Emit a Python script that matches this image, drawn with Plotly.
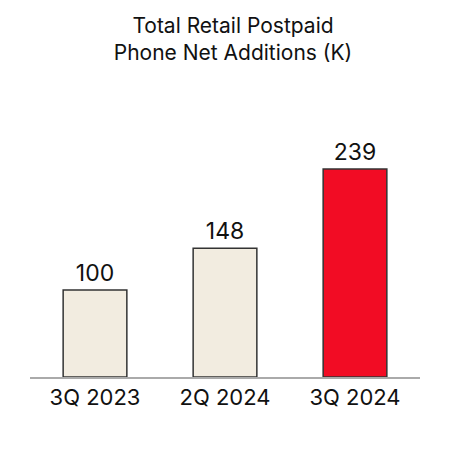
import plotly.graph_objects as go

categories = ["3Q 2023", "2Q 2024", "3Q 2024"]
values = [100, 148, 239]
colors = ["#f2ece0", "#f2ece0", "#f20c24"]

fig = go.Figure(go.Bar(
    x=categories, y=values, marker=dict(color=colors, line=dict(color="#333333", width=1.5)),
    text=[str(v) for v in values], textposition="outside", cliponaxis=False,
    textfont=dict(size=23, color="#111111"), width=0.49))
fig.update_layout(
    width=450, height=450, plot_bgcolor="white", paper_bgcolor="white",
    margin=dict(l=22, r=38, t=134, b=81),
    font=dict(family="Inter, Liberation Sans, sans-serif", color="#111111"),
    title=dict(text="Total Retail Postpaid<br>Phone Net Additions (K)", x=0.5, xanchor="center",
               y=0.945, yanchor="top", font=dict(size=21)),
    showlegend=False,
    xaxis=dict(showline=True, linecolor="#aaaaaa", linewidth=2, tickfont=dict(size=22), ticks=""),
    yaxis=dict(range=[0, 270], visible=False, showgrid=False),
)
fig.write_html("out.html")
